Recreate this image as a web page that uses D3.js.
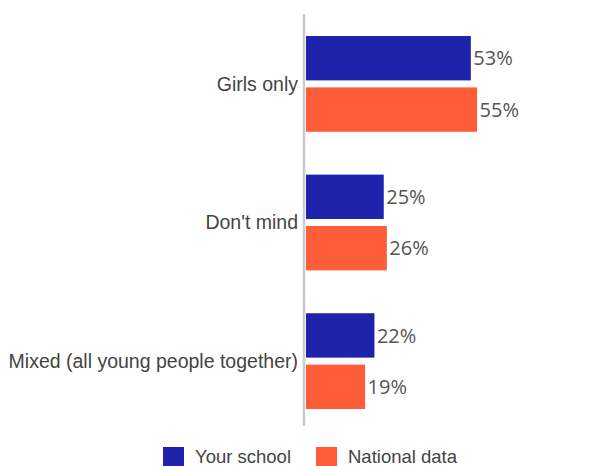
<!DOCTYPE html>
<html>
<head>
<meta charset="utf-8">
<script src="https://cdn.jsdelivr.net/npm/d3@7"></script>
<style>
  html, body { margin: 0; padding: 0; background: #fff; }
  svg { display: block; }
</style>
</head>
<body>
<svg id="chart" width="614" height="466"></svg>
<script>
// Preferred class composition: school responses vs national figures
const categories = ["Girls only", "Don't mind", "Mixed (all young people together)"];
const seriesNames = ["Your school", "National data"];
const yourSchool = [53, 25, 22];
const nationalData = [55, 26, 19];
const colors = ["#1f22aa", "#ff5c3a"];

const svg = d3.select("#chart");
const axisX = 306;

const x = d3.scaleLinear().domain([0, 100]).range([axisX, axisX + 311]);
const y0 = d3.scaleBand().domain(categories).range([36, 409]).paddingInner(0.309).paddingOuter(0);
const y1 = d3.scaleBand().domain(seriesNames).range([0, y0.bandwidth()]).paddingInner(0.136);

const rows = categories.map((c, i) => ({ cat: c, vals: [yourSchool[i], nationalData[i]] }));

const groups = svg.selectAll("g.cat").data(rows).join("g")
  .attr("class", "cat")
  .attr("transform", d => `translate(0,${y0(d.cat)})`);

groups.selectAll("rect").data(d => d.vals.map((v, j) => ({ v, s: seriesNames[j], j }))).join("rect")
  .attr("x", x(0))
  .attr("y", d => y1(d.s))
  .attr("width", d => x(d.v) - x(0))
  .attr("height", y1.bandwidth())
  .attr("fill", d => colors[d.j]);

groups.selectAll("text.val").data(d => d.vals.map((v, j) => ({ v, s: seriesNames[j] }))).join("text")
  .attr("class", "val")
  .attr("x", d => x(d.v) + 2.5)
  .attr("y", d => y1(d.s) + y1.bandwidth() / 2)
  .attr("dy", "0.36em")
  .attr("font-family", "'Open Sans', sans-serif")
  .attr("font-size", 20)
  .attr("fill", "#555")
  .text(d => d.v + "%");

groups.append("text")
  .attr("x", 298)
  .attr("y", y0.bandwidth() / 2)
  .attr("dy", "0.35em")
  .attr("text-anchor", "end")
  .attr("font-family", "'Liberation Sans', Arial, sans-serif")
  .attr("font-size", 19.5)
  .attr("fill", "#444")
  .text(d => d.cat);

// vertical baseline
svg.append("line")
  .attr("x1", axisX - 2).attr("x2", axisX - 2)
  .attr("y1", 14).attr("y2", 426)
  .attr("stroke", "#cccccc").attr("stroke-width", 2.5);

// legend
const legendX = [163, 316];
const legend = svg.selectAll("g.leg").data(seriesNames).join("g")
  .attr("class", "leg")
  .attr("transform", (d, i) => `translate(${legendX[i]},447)`);
legend.append("rect").attr("width", 21).attr("height", 21).attr("fill", (d, i) => colors[i]);
legend.append("text")
  .attr("x", 32).attr("y", 16)
  .attr("font-family", "'Liberation Sans', Arial, sans-serif")
  .attr("font-size", 18.5)
  .attr("fill", "#444")
  .text(d => d);
</script>
</body>
</html>
